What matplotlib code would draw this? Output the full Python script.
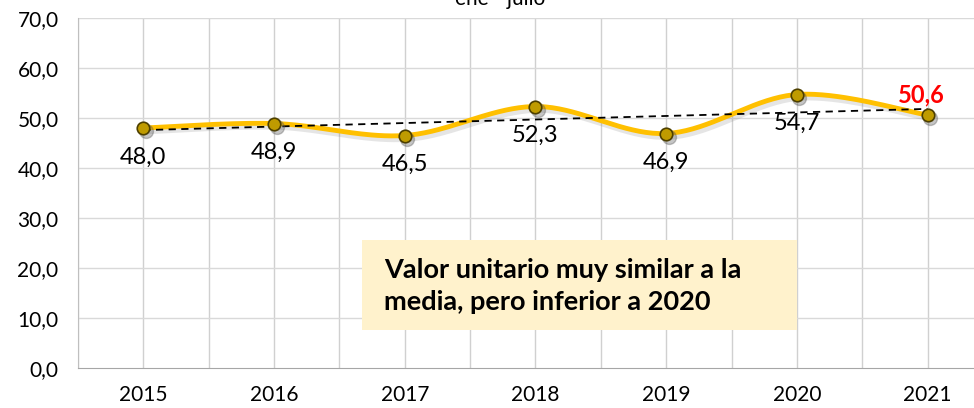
import numpy as np
import matplotlib.pyplot as plt

years = ['2015', '2016', '2017', '2018', '2019', '2020', '2021']
valores = [48.0, 48.9, 46.5, 52.3, 46.9, 54.7, 50.6]
titulo = 'ene - julio'
nota = 'Valor unitario muy similar a la\nmedia, pero inferior a 2020'

plt.rcParams['font.family'] = ['Lato', 'DejaVu Sans']


def catmull_rom(x, y, n=40):
    # smooth curve through the points, like the spreadsheet "smoothed line"
    px = np.concatenate([[x[0]], x, [x[-1]]])
    py = np.concatenate([[y[0]], y, [y[-1]]])
    xs, ys = [], []
    t = np.linspace(0, 1, n)
    for i in range(1, len(px) - 2):
        p0, p1, p2, p3 = [np.array([px[j], py[j]]) for j in range(i - 1, i + 3)]
        b1 = p1 + (p2 - p0) / 6
        b2 = p2 - (p3 - p1) / 6
        pts = ((1 - t) ** 3)[:, None] * p1 + (3 * (1 - t) ** 2 * t)[:, None] * b1 \
            + (3 * (1 - t) * t ** 2)[:, None] * b2 + (t ** 3)[:, None] * p2
        xs.extend(pts[:, 0])
        ys.extend(pts[:, 1])
    return np.array(xs), np.array(ys)


x = np.arange(len(years))
y = np.array(valores)

fig = plt.figure(figsize=(9.74, 4.08), dpi=100)
ax = fig.add_axes([78 / 974, 1 - 368 / 408, 1 - 78 / 974, 350 / 408])
ax.set_xlim(-0.5, -0.5 + (974 - 78) / 130.7)
ax.set_ylim(0, 70)

# grid
for gx in np.arange(-0.5, 7, 0.5):
    ax.axvline(gx, color='#D0D0D0', lw=1, zorder=0)
for gy in range(10, 80, 10):
    ax.axhline(gy, color='#D9D9D9', lw=1, zorder=0)

for s in ['top', 'right']:
    ax.spines[s].set_visible(False)
ax.spines['left'].set_color('#BFBFBF')
ax.spines['bottom'].set_color('#A6A6A6')

ax.set_xticks(x)
ax.set_xticklabels(years, fontsize=15)
ax.set_yticks(range(0, 80, 10))
ax.set_yticklabels([f'{v:.1f}'.replace('.', ',') for v in range(0, 80, 10)], fontsize=15)
ax.tick_params(length=0, pad=12)
ax.tick_params(axis='y', pad=14)

# smoothed line with shadow
sx, sy = catmull_rom(x, y)
ax.plot(sx + 0.02, sy - 0.7, color='#7F7F7F', lw=4, alpha=0.2, zorder=2)
ax.plot(sx, sy, color='#FFC000', lw=3.5, zorder=3, solid_capstyle='round')

# linear trend
coef = np.polyfit(x, y, 1)
ax.plot(x, np.polyval(coef, x), color='black', lw=1.3, ls=(0, (4, 3)), zorder=4)

ax.plot(x + 0.02, y - 0.6, 'o', color='#595959', ms=10, alpha=0.35, zorder=4)
ax.plot(x, y, 'o', mfc='#BF9B00', mec='#4D3F00', mew=1.2, ms=9, zorder=5)

for i, v in enumerate(valores[:-1]):
    ax.annotate(f'{v:.1f}'.replace('.', ','), (x[i], v), xytext=(0, -29),
                textcoords='offset pixels', ha='center', va='center', fontsize=17, zorder=6)
ax.annotate(f'{valores[-1]:.1f}'.replace('.', ','), (x[-1], valores[-1]), xytext=(-6, 20),
            textcoords='offset pixels', ha='center', va='center', fontsize=17,
            color='#FF0000', fontweight='bold', zorder=6)

# note box
ax.add_patch(plt.Rectangle((362, 408 - 330), 435, 90, transform=None, facecolor='#FFF2CC',
                           edgecolor='none', zorder=6))
fig.text(384 / 974, 1 - 286 / 408, nota, fontsize=19.5, fontweight='bold', va='center',
         ha='left', linespacing=1.4, zorder=7)

fig.text(500 / 974, 1 - 5 / 408, titulo, fontsize=15, ha='center', va='baseline')

fig.savefig('out.png', dpi=100)
